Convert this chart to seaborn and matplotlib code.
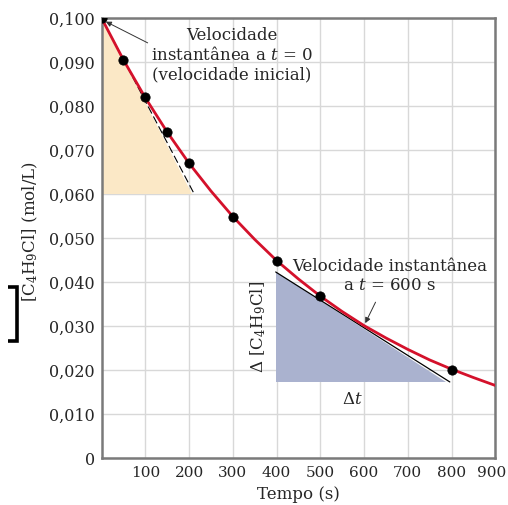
import numpy as np
import pandas as pd
import seaborn as sns
import matplotlib.pyplot as plt
import matplotlib.transforms as mtransforms
from matplotlib.lines import Line2D

# measured points
t_pts = [0, 50, 100, 150, 200, 300, 400, 500, 800]
c_pts = [0.1000, 0.0905, 0.0820, 0.0741, 0.0671, 0.0549, 0.0448, 0.0368, 0.0200]

# smooth curve
t_curve = [0, 50, 100, 150, 200, 250, 300, 350, 400, 450, 500, 550, 600, 650, 700, 750, 800, 850, 900]
c_curve = [0.1000, 0.0905, 0.0819, 0.0741, 0.0670, 0.0607, 0.0549, 0.0497, 0.0449, 0.0407,
           0.0368, 0.0333, 0.0301, 0.0273, 0.0247, 0.0223, 0.0202, 0.0183, 0.0165]

# tangent at t = 0 (dashed) and t = 600
tan0_t = [0, 213]
tan0_c = [0.1000, 0.0598]
tan600_t = [398, 796]
tan600_c = [0.0423, 0.0173]

x_ticks = [100, 200, 300, 400, 500, 600, 700, 800, 900]
y_ticks = [0, 0.010, 0.020, 0.030, 0.040, 0.050, 0.060, 0.070, 0.080, 0.090, 0.100]
y_labels = ["0", "0,010", "0,020", "0,030", "0,040", "0,050", "0,060", "0,070", "0,080", "0,090", "0,100"]

sns.set_style("white")
plt.rcParams['font.family'] = ['DejaVu Serif']
plt.rcParams['mathtext.fontset'] = 'dejavuserif'

fig = plt.figure(figsize=(5.08, 5.05), dpi=100)
ax = fig.add_axes([0.2, 0.093, 0.775, 0.871])

# shaded triangles
ax.fill([0, 0, 206], [0.1, 0.060, 0.060], color="#fbe8c6", lw=0, zorder=1)
ax.fill([398, 398, 788], [0.0423, 0.0173, 0.0173], color="#aab2cf", lw=0, zorder=1)

curve = pd.DataFrame({"t": t_curve, "c": c_curve})
pts = pd.DataFrame({"t": t_pts, "c": c_pts})

ax.plot(tan0_t, tan0_c, color="black", lw=0.8, ls=(0, (7, 3)), zorder=2)
ax.plot(tan600_t, tan600_c, color="black", lw=0.9, zorder=2)
sns.lineplot(data=curve, x="t", y="c", ax=ax, color="#d4112b", lw=2, zorder=3)
sns.scatterplot(data=pts, x="t", y="c", ax=ax, color="black", s=45, edgecolor="black", zorder=4)

ax.set_xlim(0, 900)
ax.set_ylim(0, 0.100)
ax.set_xticks(x_ticks)
ax.set_xticklabels([str(v) for v in x_ticks])
ax.set_yticks(y_ticks)
ax.set_yticklabels(y_labels)
ax.tick_params(length=0, labelsize=11.5, pad=5)
ax.tick_params(axis="x", pad=6, labelsize=11)
ax.grid(True, color="#d8d8d8", lw=1)
ax.set_axisbelow(True)
for s in ax.spines.values():
    s.set_color("#7a7a7a")
    s.set_linewidth(1.8)

# keep "900" inside the canvas
last = ax.get_xticklabels()[-1]
last.set_transform(last.get_transform() + mtransforms.ScaledTranslation(-4 / 100, 0, fig.dpi_scale_trans))

ax.set_xlabel("Tempo (s)", fontsize=12, labelpad=4)
ax.set_ylabel("[C$_4$H$_9$Cl] (mol/L)", fontsize=12)
ax.yaxis.set_label_coords(-0.156, 0.515)

# annotations
ax.annotate("", xy=(4, 0.0995), xytext=(111, 0.0941),
            arrowprops=dict(arrowstyle="-|>", color="#333333", lw=0.7, mutation_scale=8), zorder=5)
ax.text(298, 0.0916, "Velocidade\ninstantânea a $t$ = 0\n(velocidade inicial)", ha="center", va="center",
        fontsize=12, linespacing=1.15, zorder=5)

ax.annotate("", xy=(600, 0.0301), xytext=(629, 0.0360),
            arrowprops=dict(arrowstyle="-|>", color="#333333", lw=0.7, mutation_scale=8), zorder=5)
ax.text(658, 0.0414, "Velocidade instantânea\na $t$ = 600 s", ha="center", va="center",
        fontsize=12, linespacing=1.15, zorder=5)

ax.text(357, 0.0298, "Δ [C$_4$H$_9$Cl]", rotation=90, ha="center", va="center", fontsize=12, zorder=5)
ax.text(574, 0.0132, "Δ$t$", ha="center", va="center", fontsize=12, zorder=5)

# cropped bracket on the far left (figure pixels -> fraction)
bx = [8 / 508, 17 / 508, 17 / 508, 8 / 508]
by = [1 - 287 / 505, 1 - 287 / 505, 1 - 341 / 505, 1 - 341 / 505]
fig.add_artist(Line2D(bx, by, transform=fig.transFigure, color="black", lw=2.6,
                      solid_joinstyle="miter", solid_capstyle="butt"))

fig.savefig("out.png", dpi=100)
